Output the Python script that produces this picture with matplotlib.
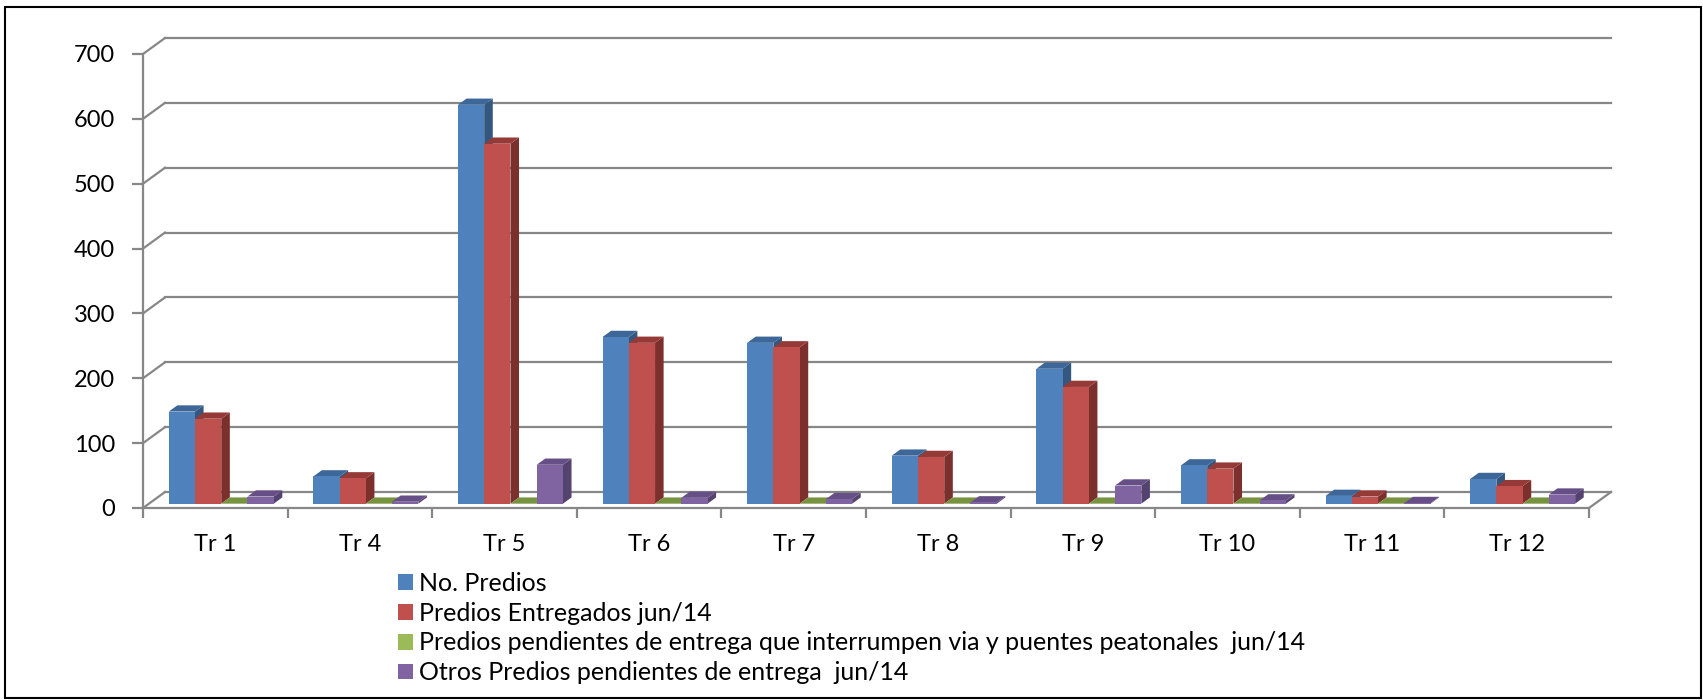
import matplotlib.pyplot as plt
from matplotlib.patches import Polygon, Patch, Rectangle

plt.rcParams['font.family'] = ['Lato', 'DejaVu Sans']

# Data
categories = ['Tr 1', 'Tr 4', 'Tr 5', 'Tr 6', 'Tr 7', 'Tr 8', 'Tr 9', 'Tr 10', 'Tr 11', 'Tr 12']
series_names = ['No. Predios',
                'Predios Entregados jun/14',
                'Predios pendientes de entrega que interrumpen via y puentes peatonales  jun/14',
                'Otros Predios pendientes de entrega  jun/14']
no_predios = [142, 42, 615, 257, 248, 74, 208, 59, 12, 38]
entregados = [131, 39, 555, 248, 241, 72, 180, 54, 11, 27]
pendientes_via = [0, 0, 0, 0, 0, 0, 0, 0, 0, 0]
otros_pendientes = [11, 3, 60, 9, 7, 2, 28, 5, 1, 14]
yticks = [0, 100, 200, 300, 400, 500, 600, 700]

series = [no_predios, entregados, pendientes_via, otros_pendientes]
front_colors = ['#4F81BD', '#C0504D', '#9BBB59', '#8064A2']
top_colors = ['#3D6798', '#963A38', '#78933F', '#654F86']
side_colors = ['#33577F', '#7C302E', '#627A31', '#54426F']
grid_color = '#878787'

W, H = 1703, 700
fig = plt.figure(figsize=(W / 100, H / 100), dpi=100)
fig.patch.set_facecolor('white')

# front plane of the plot box, in pixels
x_left, x_right, y_zero, y_top = 143, 1589, 508, 54
ax = fig.add_axes([x_left / W, (H - y_zero) / H, (x_right - x_left) / W, (y_zero - y_top) / H])
n = len(categories)
ax.set_xlim(0, n)
ax.set_ylim(0, 700)

# depth of the box (back wall offset) expressed in data units
DX = 22 / ((x_right - x_left) / n)
DY = 700 * 16 / (y_zero - y_top)

# walls: side wall diagonals + back wall gridlines
for v in yticks:
    ax.plot([0, DX], [v, v + DY], color=grid_color, lw=1.6, clip_on=False, zorder=1)
    ax.plot([DX, n + DX], [v + DY, v + DY], color=grid_color, lw=1.6, clip_on=False, zorder=1)
ax.plot([n, n + DX], [0, DY], color=grid_color, lw=1.6, clip_on=False, zorder=1)

# bars with front, top and side faces
bw = 26.25 / ((x_right - x_left) / n)
f0, f1 = 0.27, 0.66
dd = f1 - f0
z = 3
for i in range(n):
    for j, vals in enumerate(series):
        v = vals[i]
        x0 = i + 0.5 - 2 * bw + j * bw + f0 * DX
        yb = f0 * DY
        yt = yb + v
        side = Polygon([(x0 + bw, yb), (x0 + bw + dd * DX, yb + dd * DY),
                        (x0 + bw + dd * DX, yt + dd * DY), (x0 + bw, yt)],
                       closed=True, facecolor=side_colors[j], edgecolor='none', zorder=z, clip_on=False)
        top = Polygon([(x0, yt), (x0 + bw, yt), (x0 + bw + dd * DX, yt + dd * DY), (x0 + dd * DX, yt + dd * DY)],
                      closed=True, facecolor=top_colors[j], edgecolor='none', zorder=z, clip_on=False)
        ax.add_patch(side)
        ax.add_patch(top)
        if v > 0:
            ax.bar(x0, v, width=bw, bottom=yb, align='edge', color=front_colors[j],
                   edgecolor='none', zorder=z + 0.001, clip_on=False)
        z += 0.01

for s in ['top', 'right']:
    ax.spines[s].set_visible(False)
for s in ['left', 'bottom']:
    ax.spines[s].set_color(grid_color)
    ax.spines[s].set_linewidth(1.6)
ax.set_facecolor('none')

ax.set_yticks(yticks)
ax.tick_params(axis='y', length=8, width=1.6, color=grid_color, pad=12, labelsize=17)
ax.set_xticks(range(n + 1))
ax.set_xticklabels([])
ax.tick_params(axis='x', which='major', length=7, width=1.6, color=grid_color)
ax.set_xticks([i + 0.5 for i in range(n)], minor=True)
ax.set_xticklabels(categories, minor=True)
ax.tick_params(axis='x', which='minor', length=0, pad=19, labelsize=17)

handles = [Patch(facecolor=c, edgecolor='none') for c in front_colors]
fig.legend(handles, series_names, loc='upper left', bbox_to_anchor=(398 / W, 1 - 572 / H),
           frameon=False, fontsize=18, handlelength=0.6, handleheight=0.6,
           handletextpad=0.25, labelspacing=0.27, borderpad=0, borderaxespad=0)

# outer frame
fig.add_artist(Rectangle((5 / W, 2 / H), 1696 / W, 691 / H, transform=fig.transFigure,
                         fill=False, edgecolor='black', lw=1.5))

fig.savefig('out.png', dpi=100)
